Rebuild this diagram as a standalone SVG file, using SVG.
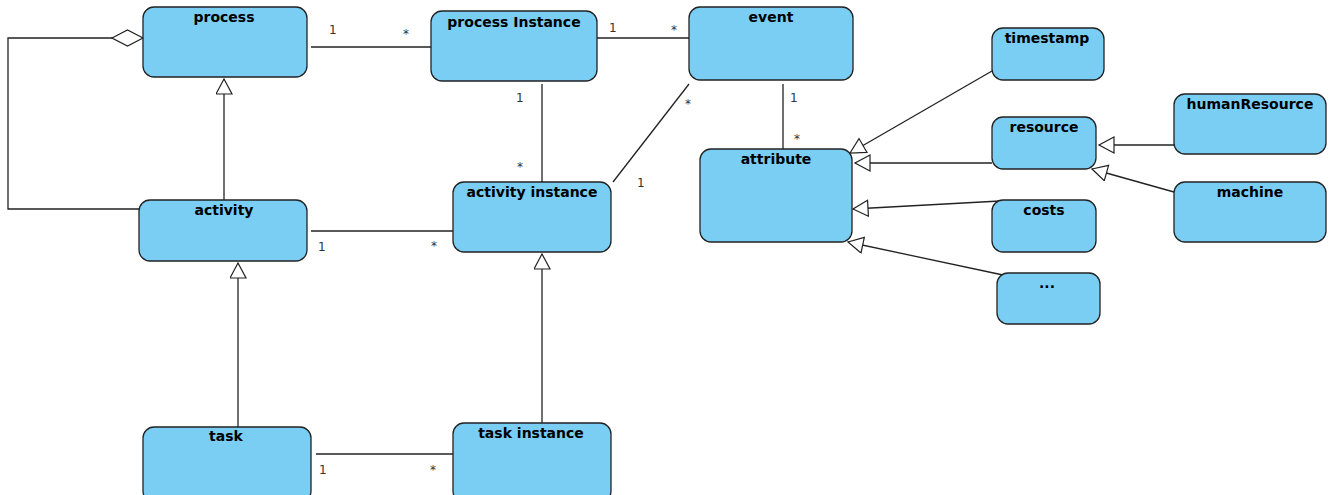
<svg xmlns="http://www.w3.org/2000/svg" width="1335" height="495" viewBox="0 0 1335 495">
<style>
.node rect{fill:#7ACEF4;stroke:#222;stroke-width:1.3}
.node text{font-family:"DejaVu Sans",sans-serif;font-weight:bold;font-size:14px;fill:#000;text-anchor:middle}
.conn line,.conn polyline{stroke:#222;stroke-width:1.3;fill:none}
.lbl{font-family:"DejaVu Sans",sans-serif;font-size:12px;fill:#333}
</style>
<defs>
<marker id="gen" markerUnits="userSpaceOnUse" markerWidth="18" markerHeight="18" viewBox="0 0 18 18" refX="16" refY="8.5" orient="auto">
<path d="M1,0.5 L16,8.5 L1,16.5 Z" fill="#fff" stroke="#222" stroke-width="1.2"/>
</marker>
<marker id="agg" markerUnits="userSpaceOnUse" markerWidth="34" markerHeight="18" viewBox="0 0 34 18" refX="32" refY="9" orient="auto">
<path d="M1,9 L16.5,1 L32,9 L16.5,17 Z" fill="#fff" stroke="#222" stroke-width="1.2"/>
</marker>
</defs>
<g class="conn">
<polyline points="139,209 8,209 8,38 143,38" marker-end="url(#agg)"/>
<line x1="224" y1="200" x2="224" y2="79" marker-end="url(#gen)"/>
<line x1="238" y1="427" x2="238" y2="263" marker-end="url(#gen)"/>
<line x1="542" y1="423" x2="542" y2="254" marker-end="url(#gen)"/>
<line x1="311" y1="47" x2="431" y2="47"/>
<line x1="597" y1="38" x2="689" y2="38"/>
<line x1="542" y1="84" x2="542" y2="182"/>
<line x1="689" y1="84" x2="613" y2="182"/>
<line x1="783" y1="84" x2="783" y2="149"/>
<line x1="311" y1="231" x2="453" y2="231"/>
<line x1="316" y1="454" x2="453" y2="454"/>
<line x1="992" y1="71" x2="850" y2="153" marker-end="url(#gen)"/>
<line x1="992" y1="163" x2="855" y2="163" marker-end="url(#gen)"/>
<line x1="1000" y1="201" x2="853" y2="209" marker-end="url(#gen)"/>
<line x1="1003" y1="275" x2="848" y2="242" marker-end="url(#gen)"/>
<line x1="1174" y1="145" x2="1099" y2="145" marker-end="url(#gen)"/>
<line x1="1174" y1="192" x2="1092" y2="169" marker-end="url(#gen)"/>
<text class="lbl" x="329" y="34">1</text>
<text class="lbl" x="403" y="38">*</text>
<text class="lbl" x="609" y="32">1</text>
<text class="lbl" x="671" y="34">*</text>
<text class="lbl" x="516" y="102">1</text>
<text class="lbl" x="517" y="171">*</text>
<text class="lbl" x="685" y="108">*</text>
<text class="lbl" x="637" y="187">1</text>
<text class="lbl" x="790" y="102">1</text>
<text class="lbl" x="794" y="143">*</text>
<text class="lbl" x="318" y="251">1</text>
<text class="lbl" x="431" y="250">*</text>
<text class="lbl" x="319" y="474">1</text>
<text class="lbl" x="430" y="474">*</text>
</g>
<g id="process" class="node"><rect x="143" y="7" width="164" height="70" rx="11"/><text x="224" y="22">process</text></g>
<g id="processInstance" class="node"><rect x="431" y="11" width="166" height="70" rx="11"/><text x="514" y="27">process Instance</text></g>
<g id="event" class="node"><rect x="689" y="7" width="164" height="73" rx="11"/><text x="771" y="22">event</text></g>
<g id="activity" class="node"><rect x="139" y="200" width="168" height="61" rx="11"/><text x="224" y="215">activity</text></g>
<g id="activityInstance" class="node"><rect x="453" y="182" width="158" height="70" rx="11"/><text x="532" y="197">activity instance</text></g>
<g id="attribute" class="node"><rect x="700" y="149" width="152" height="93" rx="11"/><text x="776" y="164">attribute</text></g>
<g id="task" class="node"><rect x="143" y="427" width="168" height="75" rx="11"/><text x="226" y="441">task</text></g>
<g id="taskInstance" class="node"><rect x="453" y="423" width="158" height="79" rx="11"/><text x="531" y="438">task instance</text></g>
<g id="timestamp" class="node"><rect x="992" y="28" width="112" height="52" rx="11"/><text x="1047" y="43">timestamp</text></g>
<g id="resource" class="node"><rect x="992" y="117" width="104" height="52" rx="11"/><text x="1044" y="132">resource</text></g>
<g id="costs" class="node"><rect x="992" y="200" width="104" height="52" rx="11"/><text x="1044" y="215">costs</text></g>
<g id="more" class="node"><rect x="997" y="273" width="103" height="51" rx="11"/><text x="1047" y="288">...</text></g>
<g id="humanResource" class="node"><rect x="1174" y="94" width="152" height="60" rx="11"/><text x="1250" y="109">humanResource</text></g>
<g id="machine" class="node"><rect x="1174" y="182" width="152" height="60" rx="11"/><text x="1250" y="197">machine</text></g>
</svg>
